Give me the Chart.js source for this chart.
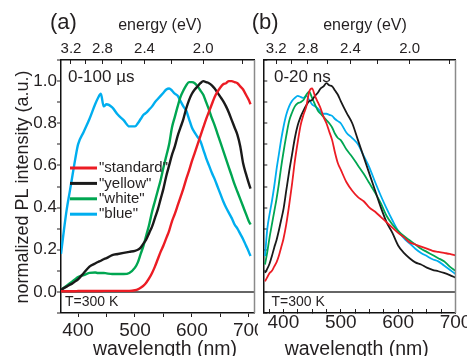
<!DOCTYPE html>
<html><head><meta charset="utf-8">
<script src="https://cdn.jsdelivr.net/npm/chart.js@4.4.1/dist/chart.umd.min.js"></script>
<style>
html,body{margin:0;padding:0;background:#fff;}
body{width:467px;height:356px;position:relative;overflow:hidden;}
#ca{position:absolute;left:0;top:0;}
#cb{position:absolute;left:248px;top:0;}
</style></head><body>
<canvas id="ca" width="258" height="356"></canvas>
<canvas id="cb" width="219" height="356"></canvas>
<script>
// ---------- data ----------
const seriesNames = ['"standard"', '"yellow"', '"white"', '"blue"'];
const seriesColors = ['#ec1c24', '#1a1a1a', '#00a651', '#00aeef'];
const energyTicks = [3.2, 3.0, 2.8, 2.6, 2.4, 2.2, 2.0, 1.8];
const energyLabels = [3.2, 2.8, 2.4, 2.0];
const wlMajorLabels = [400, 500, 600, 700];

// panel (a) 0-100 us
const wlA = [370,375,380,385,390,395,400,410,420,430,435,440,445,450,460,470,480,490,500,505,510,515,520,525,530,535,540,545,550,555,560,565,570,575,580,585,590,595,600,605,610,615,620,625,630,635,640,645,650,655,660,665,670,675,680,685,690,695,700,703];
const standardA = [0.003,0.003,0.003,0.003,0.003,0.003,0.004,0.004,0.004,0.004,0.004,0.004,0.005,0.005,0.005,0.005,0.005,0.005,0.008,0.012,0.02,0.03,0.045,0.065,0.09,0.12,0.155,0.19,0.22,0.255,0.29,0.335,0.37,0.41,0.45,0.49,0.535,0.575,0.62,0.66,0.70,0.74,0.78,0.82,0.855,0.89,0.925,0.95,0.97,0.985,0.99,1.0,1.0,0.995,0.99,0.975,0.96,0.935,0.91,0.89];
const yellowA = [0.01,0.018,0.025,0.033,0.04,0.05,0.06,0.09,0.12,0.135,0.142,0.148,0.155,0.16,0.175,0.18,0.185,0.19,0.195,0.20,0.21,0.23,0.25,0.28,0.31,0.35,0.39,0.44,0.49,0.55,0.60,0.65,0.69,0.74,0.78,0.82,0.87,0.91,0.94,0.96,0.975,0.99,1.0,0.995,0.99,0.98,0.965,0.945,0.925,0.905,0.88,0.85,0.815,0.78,0.745,0.69,0.61,0.56,0.515,0.49];
const whiteA = [0.01,0.02,0.03,0.04,0.05,0.06,0.07,0.08,0.09,0.092,0.09,0.09,0.09,0.088,0.085,0.085,0.085,0.09,0.115,0.14,0.18,0.22,0.27,0.32,0.38,0.43,0.48,0.53,0.59,0.645,0.70,0.78,0.83,0.88,0.925,0.955,0.98,0.995,0.995,0.99,0.975,0.955,0.935,0.90,0.865,0.825,0.79,0.75,0.71,0.67,0.63,0.59,0.55,0.51,0.475,0.44,0.405,0.37,0.335,0.32];
const blueA = [0.18,0.29,0.39,0.47,0.55,0.63,0.70,0.76,0.82,0.89,0.92,0.94,0.88,0.89,0.875,0.84,0.815,0.785,0.785,0.80,0.82,0.84,0.85,0.865,0.88,0.90,0.915,0.93,0.945,0.96,0.965,0.955,0.94,0.93,0.905,0.88,0.86,0.82,0.78,0.755,0.735,0.715,0.675,0.635,0.60,0.565,0.535,0.50,0.465,0.43,0.40,0.375,0.35,0.32,0.30,0.275,0.25,0.22,0.19,0.17];

// panel (b) 0-20 ns
const wlB = [368,372,376,380,384,388,392,396,400,405,410,415,420,425,430,435,440,445,450,455,460,465,470,475,480,485,490,495,500,510,520,530,540,550,560,570,580,590,600,610,620,630,640,650,660,670,680,690,700];
const standardB = [0.05,0.07,0.09,0.10,0.12,0.14,0.17,0.21,0.25,0.32,0.41,0.51,0.62,0.71,0.79,0.84,0.88,0.95,0.965,0.93,0.90,0.87,0.83,0.80,0.76,0.72,0.66,0.61,0.58,0.52,0.48,0.45,0.43,0.40,0.38,0.355,0.33,0.305,0.28,0.26,0.235,0.225,0.215,0.205,0.195,0.19,0.185,0.18,0.173];
const yellowB = [0.09,0.11,0.135,0.17,0.21,0.245,0.29,0.34,0.39,0.48,0.57,0.65,0.73,0.79,0.83,0.86,0.885,0.905,0.91,0.93,0.945,0.965,0.975,0.99,0.98,0.975,0.955,0.935,0.905,0.85,0.80,0.72,0.64,0.56,0.48,0.40,0.33,0.28,0.22,0.185,0.16,0.14,0.13,0.115,0.105,0.098,0.09,0.08,0.068];
const whiteB = [0.13,0.19,0.26,0.32,0.38,0.44,0.51,0.59,0.66,0.74,0.81,0.85,0.88,0.895,0.90,0.91,0.935,0.95,0.92,0.89,0.86,0.845,0.83,0.815,0.80,0.78,0.75,0.73,0.72,0.675,0.64,0.60,0.56,0.515,0.47,0.42,0.36,0.32,0.29,0.265,0.245,0.225,0.205,0.19,0.175,0.16,0.145,0.12,0.10];
const blueB = [0.17,0.30,0.37,0.43,0.50,0.58,0.65,0.72,0.78,0.84,0.88,0.905,0.92,0.93,0.925,0.92,0.93,0.91,0.89,0.88,0.87,0.855,0.845,0.845,0.84,0.835,0.82,0.81,0.80,0.755,0.73,0.70,0.645,0.59,0.52,0.455,0.395,0.34,0.29,0.255,0.23,0.205,0.185,0.17,0.155,0.145,0.125,0.105,0.085];

// ---------- helpers ----------
const FONT = '"Liberation Sans", Arial, Helvetica, sans-serif';
const TXT = '#231f20';
const pts = (xs, ys) => xs.map((x, i) => ({x: x, y: ys[i]}));
function makeDatasets(xs, arrs, w) {
  return arrs.map((ys, i) => ({
    label: seriesNames[i], data: pts(xs, ys), borderColor: seriesColors[i],
    backgroundColor: seriesColors[i], borderWidth: w, pointRadius: 0,
    cubicInterpolationMode: 'monotone', fill: false
  }));
}
function range(a, b, s) { const r = []; for (let v = a; v <= b + 1e-9; v += s) r.push(v); return r; }

function energyAxis(min, max, tl) {
  return {
    type: 'linear', position: 'top', min: min, max: max,
    afterBuildTicks: s => { s.ticks = energyTicks.map(e => ({value: 1240 / e})); },
    ticks: {
      autoSkip: false, maxRotation: 0, color: TXT, padding: 6,
      font: {family: FONT, size: 15},
      callback: v => { const e = 1240 / v; const m = energyLabels.find(l => Math.abs(l - e) < 0.01); return m !== undefined ? m.toFixed(1) : ''; }
    },
    grid: {drawOnChartArea: false, tickLength: tl, tickColor: TXT, tickWidth: 1},
    border: {display: true, color: '#111', width: 1.5},
    afterFit: s => { s.height = 60; s.paddingLeft = 0; s.paddingRight = 0; }
  };
}
function wlAxis(min, max, step, tl) {
  return {
    type: 'linear', position: 'bottom', min: min, max: max,
    afterBuildTicks: s => { s.ticks = range(Math.ceil(min / step) * step, max, step).map(v => ({value: v})); },
    ticks: {
      autoSkip: false, maxRotation: 0, color: TXT, padding: 2,
      font: {family: FONT, size: 19},
      callback: v => wlMajorLabels.includes(Math.round(v)) && Math.abs(v - Math.round(v)) < 1e-6 ? String(Math.round(v)) : ''
    },
    grid: {drawOnChartArea: false, tickLength: tl, tickColor: TXT, tickWidth: 1},
    border: {display: true, color: '#111', width: 1.5},
    afterFit: s => { s.height = 43; s.paddingLeft = 0; s.paddingRight = 0; }
  };
}
function yAxis(width, tl, showLabels) {
  return {
    type: 'linear', position: 'left', min: -0.1, max: 1.1,
    afterBuildTicks: s => { s.ticks = range(-0.1, 1.1, 0.1).map(v => ({value: Math.round(v * 10) / 10})); },
    ticks: {
      display: showLabels, autoSkip: false, color: TXT, padding: 0,
      font: {family: FONT, size: 17},
      callback: v => { const k = Math.round(v * 10); return (k >= 0 && k <= 10 && k % 2 === 0) ? (k / 10).toFixed(1) : ''; }
    },
    grid: {
      drawOnChartArea: true, tickLength: tl, tickColor: TXT, tickWidth: 1,
      color: c => (c.tick && Math.abs(c.tick.value) < 1e-9) ? '#666' : 'rgba(0,0,0,0)',
      lineWidth: c => (c.tick && Math.abs(c.tick.value) < 1e-9) ? 2 : 0
    },
    border: {display: true, color: '#111', width: 1.5},
    afterFit: s => { s.width = width; }
  };
}
function txt(c, s, x, y, size, align, base) {
  c.font = size + 'px ' + FONT; c.fillStyle = TXT;
  c.textAlign = align || 'left'; c.textBaseline = base || 'middle';
  c.fillText(s, x, y);
}
function decor(id, texts, legend) {
  return {
    id: 'decor' + id,
    afterDraw(chart) {
      const c = chart.ctx, a = chart.chartArea;
      c.save();
      c.strokeStyle = '#8a8a8a'; c.lineWidth = 1.5;
      c.beginPath(); c.moveTo(a.right, a.top); c.lineTo(a.right, a.bottom); c.stroke();
      texts(c, a);
      if (legend) {
        chart.data.datasets.forEach((d, i) => {
          const y = 168 + i * 15.4;
          c.strokeStyle = d.borderColor; c.lineWidth = 3;
          c.beginPath(); c.moveTo(70, y); c.lineTo(97, y); c.stroke();
          txt(c, d.label, 99, y, 15);
        });
      }
      c.restore();
    }
  };
}

// ---------- panel (a) ----------
new Chart(document.getElementById('ca'), {
  type: 'line',
  data: {datasets: makeDatasets(wlA, [standardA, yellowA, whiteA, blueA], 2.4)},
  options: {
    responsive: false, animation: false,
    layout: {padding: {left: 0, right: 3.5, top: 0, bottom: 0}},
    plugins: {legend: {display: false}, tooltip: {enabled: false}},
    scales: {
      x: wlAxis(370, 710, 50, 4),
      xTop: energyAxis(370, 710, -4),
      y: yAxis(61, 4, true)
    }
  },
  plugins: [decor('a', (c, a) => {
    txt(c, '(a)', 50, 23, 22);
    txt(c, 'energy (eV)', 160, 26, 16, 'center');
    txt(c, '0-100 \u00b5s', 68, 77, 17);
    txt(c, 'T=300 K', 65, 302, 14);
    txt(c, 'wavelength (nm)', 165, 355, 19.5, 'center', 'alphabetic');
    c.save(); c.translate(23, 187); c.rotate(-Math.PI / 2);
    txt(c, 'normalized PL intensity (a.u.)', 0, 0, 18, 'center');
    c.restore();
  }, true)]
});

// ---------- panel (b) ----------
new Chart(document.getElementById('cb'), {
  type: 'line',
  data: {datasets: makeDatasets(wlB, [standardB, yellowB, whiteB, blueB], 1.8)},
  options: {
    responsive: false, animation: false,
    layout: {padding: {left: 0, right: 11.5, top: 0, bottom: 0}},
    plugins: {legend: {display: false}, tooltip: {enabled: false}},
    scales: {
      x: wlAxis(365, 700, 25, -4),
      xTop: energyAxis(365, 700, -4),
      y: yAxis(15.3, -4, false)
    }
  },
  plugins: [decor('b', (c, a) => {
    txt(c, '(b)', 3.7, 23, 22);
    txt(c, 'energy (eV)', 117, 26, 16, 'center');
    txt(c, '0-20 ns', 26, 77, 17);
    txt(c, 'T=300 K', 23.5, 302, 14);
    txt(c, 'wavelength (nm)', 108.7, 355, 19.5, 'center', 'alphabetic');
  }, false)]
});
</script>
</body></html>
